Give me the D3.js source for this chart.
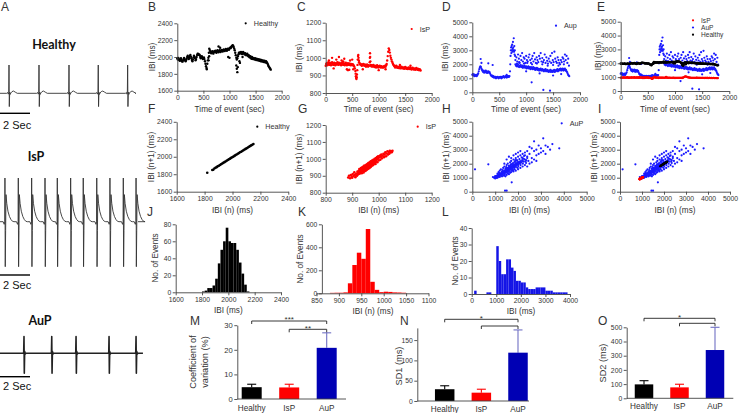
<!DOCTYPE html>
<html><head><meta charset="utf-8">
<script src="https://cdn.jsdelivr.net/npm/d3@7"></script>
<style>body{margin:0;background:#fff}svg{display:block}</style>
</head><body>
<svg id="chart" width="740" height="413"></svg>
<script>
// ---------------- DATA ----------------
const groups = ['Healthy', 'IsP', 'AuP'];

// Panel A: ECG beat times (s) and beat waveforms [offset s, amplitude]
const healthyBeats = [0.6, 2.6, 4.6, 6.55, 8.51];
const ispBeats = [0.33, 1.22, 2.11, 3.0, 3.82, 4.71, 5.55, 6.45, 7.33, 8.22, 9.07];
const aupBeats = [1.6, 3.45, 5.07, 7.27, 9.07];
const healthyWave = [[-0.15,0],[-0.08,0.03],[-0.05,-0.03],[-0.02,0.02],[0,1],[0.02,-0.47],[0.045,0.04],[0.08,-0.04],[0.12,0.01],[0.2,0.06],[0.3,0.08],[0.42,0.04],[0.55,0]];
const ispWave = [[-0.12,0],[-0.05,-0.06],[-0.01,0],[0,1],[0.02,-1.03],[0.045,-0.2],[0.07,0.62],[0.12,0.42],[0.2,0.24],[0.3,0.12],[0.4,0.05],[0.5,0.01],[0.6,0]];
const aupWave = [[-0.08,0],[-0.02,0.05],[0,1],[0.02,-1.18],[0.045,0.12],[0.08,-0.05],[0.12,0]];

// Panels B-E: [time of event (s), IBI (ms)]
const healthyIBI = [
[0,1985],[10,1970],[20,1990],[30,1975],[40,1960],[50,1955],[60,1970],[70,1985],[80,1965],[90,1950],
[100,1945],[110,1960],[120,1975],[130,1990],[140,1975],[150,1960],[160,1950],[170,1965],[180,1980],[190,2000],
[200,2015],[210,1995],[220,1975],[230,1990],[240,2010],[250,2025],[260,2005],[270,1985],[280,1965],[290,1950],
[300,1970],[310,1995],[320,2015],[330,2000],[340,1985],[350,1960],[360,1975],[370,2000],[380,2025],[390,2040],
[400,2035],[410,2025],[420,2030],[430,2020],[440,2000],[450,1985],[460,1995],[470,2010],[480,1990],[490,1975],
[500,1985],[510,1995],[520,1975],[530,1950],[540,1920],[550,1890],[560,1870],[565,1855],[575,1920],[585,1960],
[595,1990],[605,2050],[612,2100],[620,2085],[630,2070],[640,2060],[650,2045],[660,2055],[670,2070],[680,2060],
[690,2040],[700,2055],[710,2070],[720,2060],[730,2075],[740,2060],[750,2050],[760,2070],[770,2080],[780,2065],
[790,2055],[800,2070],[810,2080],[820,2070],[830,2060],[840,2075],[850,2085],[860,2075],[870,2065],[880,2080],
[890,2090],[900,2080],[910,2070],[920,2085],[930,2095],[940,2085],[950,2075],[960,2090],[970,2100],[980,2095],
[990,2085],[1000,2100],[1010,2110],[1020,2105],[1030,2115],[1040,2125],[1050,2130],[1060,2140],[1070,2135],[1080,2120],
[1090,2100],[1100,2080],[1110,2050],[1120,2020],[1130,1990],[1140,1970],[1150,1985],[1160,2010],[1170,2030],[1180,2050],
[1190,2040],[1200,2055],[1210,2045],[1220,2060],[1230,2050],[1240,2035],[1250,2045],[1260,2060],[1270,2050],[1280,2040],
[1290,2030],[1300,2045],[1310,2035],[1320,2020],[1330,2030],[1340,2040],[1350,2025],[1360,2010],[1370,2020],[1380,2000],
[1390,1995],[1400,2010],[1410,1990],[1420,1980],[1430,2000],[1440,1985],[1450,1975],[1460,1990],[1470,1980],[1480,1970],
[1490,1985],[1500,1975],[1510,1965],[1520,1980],[1530,1970],[1540,1960],[1550,1975],[1560,1965],[1570,1955],[1580,1970],
[1590,1960],[1600,1950],[1610,1965],[1620,1955],[1630,1945],[1640,1960],[1650,1950],[1660,1940],[1670,1955],[1680,1945],
[1690,1935],[1700,1950],[1710,1940],[1720,1930],[1730,1920],[1740,1905],[1750,1890],[1760,1880],[1770,1870],[1780,1860],[1790,1850],
[790,2125],[820,2110],[975,2000],[1000,1990],[1130,1900],[1140,1860],[1150,1820],[1160,1880],[1190,1950],[1200,1930],[1250,2000],[600,1960],[610,2010]
];
const ispIBI = [
[0,955],[10,965],[20,970],[30,958],[40,962],[50,975],[60,968],[70,960],[80,972],[90,966],
[100,958],[110,970],[120,975],[130,962],[140,968],[150,960],[160,972],[170,965],[180,958],[190,970],
[200,966],[210,962],[220,975],[230,968],[240,960],[250,972],[260,965],[270,970],[280,962],[290,958],
[300,968],[310,972],[320,965],[330,960],[340,970],[350,963],[360,958],[370,967],[380,972],[390,962],
[400,958],[410,966],[420,970],[430,962],[440,960],[450,968],[460,964],[470,958],[480,966],[490,962],
[500,958],[510,964],[520,960],[530,955],[540,950],[550,940],[560,925],[565,910],[570,895],[575,885],
[580,880],[585,890],[590,905],[595,930],[600,960],[605,990],[610,1010],[615,1016],[620,1000],[625,985],
[630,975],[640,968],[650,962],[660,966],[670,960],[680,955],[690,962],[700,958],[710,965],[720,960],
[730,955],[740,962],[750,958],[760,950],[770,958],[780,962],[790,955],[800,950],[810,958],[820,955],
[830,975],[833,1000],[836,1026],[839,1005],[842,980],[850,960],[860,952],[870,958],[880,950],[890,955],
[900,960],[910,952],[920,948],[930,955],[940,950],[950,945],[960,952],[970,958],[980,950],[990,945],
[1000,952],[1010,948],[1020,955],[1030,950],[1040,945],[1050,952],[1060,948],[1070,945],[1080,950],[1090,945],
[1100,952],[1110,948],[1120,955],[1130,950],[1140,958],[1150,965],[1160,985],[1170,1010],[1180,1035],[1190,1054],
[1200,1045],[1210,1030],[1220,1012],[1230,1000],[1240,990],[1250,980],[1260,972],[1270,965],[1280,960],[1290,955],
[1300,952],[1310,945],[1320,950],[1330,955],[1340,948],[1350,944],[1360,950],[1370,946],[1380,942],[1390,948],
[1400,944],[1410,940],[1420,946],[1430,950],[1440,944],[1450,940],[1460,946],[1470,942],[1480,938],[1490,944],
[1500,948],[1510,942],[1520,938],[1530,944],[1540,940],[1550,936],[1560,942],[1570,946],[1580,940],[1590,936],
[1600,942],[1610,938],[1620,934],[1630,940],[1640,944],[1650,938],[1660,934],[1670,940],[1680,936],[1690,932],
[1700,938],[1710,942],[1720,936],[1730,932],[1740,938],[1750,934],[1760,930],[1770,936],[1780,932],[1790,928],
[120,1000],[200,990],[250,1005],[300,985],[350,995],[400,935],[420,930],[445,932],[460,985],[520,935],
[500,990],[150,940],[60,985],[330,980],[700,935],[1000,930],[1130,935],[1400,960],[1600,955]
];
const aupIBI = [
[0,1250],[10,1300],[20,1200],[30,1280],[40,1150],[50,1220],[60,1180],[70,1250],[80,1150],[90,1200],
[100,1280],[110,1350],[120,1500],[130,1650],[140,1780],[150,1850],[160,1800],[170,1700],[180,1600],[190,1520],
[200,1450],[210,1550],[220,1400],[230,1500],[240,1450],[250,1550],[260,1400],[270,1500],[280,1380],[290,1450],
[300,1500],[310,1400],[320,1450],[330,1350],[340,1250],[350,1200],[360,1150],[370,1200],[380,1100],[390,1150],
[400,1050],[410,1100],[420,1050],[430,1100],[440,1000],[450,1080],[460,1050],[470,1100],[480,1050],[490,1000],
[500,1080],[510,1050],[520,1100],[530,1050],[540,1000],[550,1100],[560,1050],[570,1100],[580,1150],[590,1080],
[600,1050],[610,1100],[620,1150],[630,1100],[640,1050],[650,1150],[660,1100],[670,1150],[680,1100],[690,1150],
[155,2380],[170,2100],[297,2070],[378,1950],[638,1240],
[700,1500],[705,2000],[710,2600],[715,3000],[720,3200],[725,2800],[730,3300],[735,3000],[740,3400],[745,2900],
[750,3100],[755,3600],[760,3200],[765,3000],[770,3860],[775,2900],[780,3300],[785,2700],[790,3000],[795,2600],
[800,2000],[810,1900],[820,1950],[830,1850],[840,1900],[850,2000],[860,1850],[870,1800],[880,1900],[890,1850],
[900,1950],[910,1800],[920,1850],[930,1900],[940,1750],[950,1850],[960,1800],[970,1900],[980,1750],[990,1800],
[1000,1850],[1010,1700],[1020,1800],[1030,1750],[1040,1850],[1050,1700],[1060,1800],[1070,1750],[1080,1650],[1090,1800],
[1100,1700],[1110,1750],[1120,1650],[1130,1800],[1140,1700],[1150,1650],[1160,1750],[1170,1600],[1180,1700],[1190,1650],
[1200,1750],[1210,1600],[1220,1700],[1230,1650],[1240,1550],[1250,1650],[1260,1600],[1270,1700],[1280,1550],[1290,1600],
[1300,1650],[1310,1550],[1320,1600],[1330,1500],[1340,1600],[1350,1550],[1360,1650],[1370,1500],[1380,1550],[1390,1600],
[1400,1500],[1410,1550],[1420,1450],[1430,1550],[1440,1500],[1450,1600],[1460,1450],[1470,1550],[1480,1500],[1490,1450],
[1500,1550],[1510,1500],[1520,1600],[1530,1450],[1540,1550],[1550,1500],[1560,1600],[1570,1550],[1580,1650],[1590,1500],
[1600,1600],[1610,1550],[1620,1650],[1630,1600],[1640,1700],[1650,1550],[1660,1650],[1670,1600],[1680,1700],[1690,1550],
[1700,1650],[1710,1600],[1720,1700],[1730,1550],[1740,1600],[1750,1500],[1760,1450],[1770,1350],[1780,1250],[1790,1200],[1800,1150],
[800,2300],[820,2500],[835,2200],[850,2700],[865,2400],[880,2100],[895,2600],[910,2300],[925,2800],[940,2200],
[955,2500],[970,2400],[985,2100],[1000,2600],[1015,2300],[1030,2200],[1045,2500],[1060,2700],[1075,2300],[1090,2100],
[1105,2400],[1120,2600],[1135,2200],[1150,2800],[1165,2350],[1180,2100],[1195,2500],[1210,2300],[1225,2150],[1240,2600],
[1255,2400],[1270,2800],[1285,2200],[1300,2450],[1315,2150],[1330,2300],[1345,2700],[1360,2100],[1375,2500],[1390,2250],
[1405,2050],[1420,2400],[1435,2200],[1450,2600],[1465,2100],[1480,2800],[1495,2300],[1510,2150],[1525,2900],[1540,2400],
[1555,2200],[1570,2100],[1585,2500],[1600,2300],[1615,2100],[1630,2000],[1645,2300],[1660,2150],[1675,2500],[1690,2400],
[1705,2200],[1720,2700],[1735,2300],[1750,2600],[1765,2100],[1780,2400],[1795,1900],
[830,2050],[870,2150],[960,2050],[1020,2100],[1110,2000],[1200,2050],[1300,2000],[1400,1900],[1500,1950],[1600,1900],[1700,2000],
[1102,714],[1319,167],[1443,119],[1000,1500],[1250,1350],[1500,1200],[1650,1300]
];

// Panels F-I: Poincare pairs [IBI(n), IBI(n+1)] (ms)
const healthyPoincare = [
[1819,1817],[1855,1848],[1862,1852],[1870,1866],[1878,1874],[1886,1881],[1894,1890],[1902,1897],[1910,1906],[1918,1914],
[1926,1922],[1934,1930],[1942,1938],[1950,1946],[1958,1955],[1966,1962],[1974,1970],[1982,1978],[1990,1987],[1998,1994],
[2006,2002],[2014,2010],[2022,2019],[2030,2026],[2038,2034],[2046,2042],[2054,2051],[2062,2058],[2070,2066],[2078,2074],
[2086,2083],[2094,2090],[2102,2098],[2110,2106],[2118,2115],[2126,2122],[2134,2130],[2142,2138],[2150,2146]
];
const ispPoincare = [
[885,890],[888,900],[892,885],[895,905],[898,895],[900,888],[902,910],[905,898],[908,920],[910,905],
[912,892],[915,912],[918,900],[920,925],[920,915],[922,908],[925,930],[925,918],[927,940],[928,912],
[930,925],[930,935],[932,918],[933,945],[935,928],[935,940],[936,915],[938,932],[938,950],[940,925],
[940,942],[941,935],[942,955],[943,920],[944,938],[945,948],[945,930],[946,960],[947,942],[948,935],
[949,952],[950,945],[950,928],[951,958],[952,940],[953,965],[954,950],[955,935],[955,945],[956,958],
[957,970],[958,948],[959,940],[960,955],[960,962],[961,975],[962,950],[963,960],[964,945],[965,968],
[965,955],[966,980],[967,960],[968,950],[969,972],[970,962],[970,985],[971,955],[972,968],[973,978],
[974,960],[975,990],[976,970],[977,982],[978,962],[979,975],[980,995],[981,968],[982,985],[983,975],
[985,1000],[985,980],[987,992],[988,970],[990,1005],[990,985],[992,995],[994,1010],[995,980],[997,1000],
[998,1015],[1000,990],[1002,1008],[1005,1020],[1006,995],[1008,1012],[1010,1025],[1012,1003],[1015,1018],[1018,1030],
[1020,1010],[1022,1025],[1025,1038],[1028,1015],[1030,1032],[1033,1045],[1035,1025],[1038,1040],[1040,1030],[1042,1048],
[1045,1038],[1048,1045],[1050,1040],[1052,1048],
[940,948],[945,952],[950,955],[955,960],[958,952],[962,966],[966,964],[952,948],[948,944],[944,940]
];
const aupPoincare = [
[1000,1000],[1020,1050],[1050,1020],[1080,1080],[1100,1040],[1040,1100],[1120,1120],[1150,1080],[1080,1150],[1180,1180],
[1200,1130],[1130,1200],[1060,1000],[1000,1060],[1100,1000],[1000,1120],[1220,1220],[1250,1170],[1170,1250],[1280,1280],
[1300,1230],[1230,1300],[1320,1350],[1350,1300],[1380,1400],[1400,1350],[1350,1420],[1420,1450],[1450,1400],[1400,1480],
[1480,1500],[1500,1450],[1450,1530],[1520,1550],[1550,1500],[1500,1580],[1580,1600],[1600,1550],[1550,1650],[1620,1680],
[1650,1600],[1600,1700],[1680,1700],[1700,1650],[1650,1750],[1720,1780],[1750,1700],[1700,1800],[1780,1800],[1800,1750],
[1750,1850],[1820,1880],[1850,1800],[1800,1900],[1880,1900],[1900,1850],[1850,1950],[1920,1980],[1950,1900],[1900,2000],
[1980,2000],[2000,1950],[1950,2050],[2020,2080],[2050,2000],[2000,2100],[2080,2100],[2100,2050],[2050,2150],[2120,2180],
[2150,2100],[2200,2200],[2180,2250],[2250,2150],[2300,2300],[2250,2350],[2350,2250],
[1300,1100],[1400,1150],[1500,1200],[1600,1250],[1450,1100],[1550,1300],[1700,1400],[1800,1450],[1900,1500],[2000,1600],
[1650,1350],[1750,1500],[1850,1600],[2100,1700],[2200,1800],[2300,1900],[2400,1800],[2500,2000],[2600,2100],[2450,2200],
[2700,2300],[2800,2200],[2350,2050],[1200,1050],[1350,1150],
[1100,1300],[1150,1400],[1200,1500],[1250,1600],[1300,1450],[1350,1700],[1400,1800],[1450,1650],[1500,1900],[1550,2000],
[1600,1850],[1650,2100],[1700,2200],[1750,2000],[1800,2300],[1850,2150],[1900,2400],[1950,2250],[2000,2500],[1500,2300],
[1600,2500],[1700,2400],[1800,2600],[1900,2700],[2000,2800],[2100,2600],[2200,2700],[1400,2000],
[2100,2900],[2200,2400],[2300,2600],[2400,2500],[2500,2700],[2600,2400],[2700,2900],[2800,3000],[2900,2700],[3000,3100],
[3100,2900],[3200,3300],[3300,3200],[3400,3000],[3500,3400],[3800,3100],[3100,3810],[2700,3600],[2900,3300],[3000,2800],
[3200,2700],[2600,3100],[2400,2900],[2300,2800],[2500,3200],[2800,2600],
[1030,1010],[1060,1090],[1090,1060],[1110,1160],[1140,1110],[1160,1190],[1190,1140],[1210,1260],[1240,1210],[1260,1320],
[1290,1240],[1310,1380],[1340,1270],[1370,1460],[1390,1310],[1430,1520],[1460,1360],[1490,1620],[1510,1380],[1540,1700],
[1570,1420],[1610,1780],[1640,1480],[1670,1860],[1710,1550],[1730,1950],[1760,1620],[1790,2050],[1830,1700],[1870,2120],
[1910,1760],[1960,2200],[2010,1820],[2060,2320],[2110,1900],[2160,2450],[2210,2000],[2260,2550],[2330,2150],[2400,2400],
[1180,1330],[1270,1150],[1330,1550],[1420,1250],[1480,1750],[1580,1450],[1680,1950],[1780,1550],[1880,2250],[1980,1700],
[118,1600],[700,1957],[1430,71],[1503,71],[1722,671],[900,1050],[950,1000],[1000,950]
];

// Panels J-L: histograms (bin start, ms) and counts
const healthyBinWidth = 20;
const healthyBins = [1800,1820,1840,1860,1880,1900,1920,1940,1960,1980,2000,2020,2040,2060,2080,2100,2120,2140];
const healthyCounts = [1,2,5,5,8,16,34,50,60,76,60,58,58,50,35,22,9,1];
const ispBinWidth = 10;
const ispBins = [880,890,900,910,920,930,940,950,960,970,980,990,1000,1010,1020,1030,1040];
const ispCounts = [4,5,5,8,87,246,353,300,559,100,30,10,14,12,8,7,5];
const aupBinWidth = 100;
const aupBins = [0,100,200,300,400,500,600,700,800,900,1000,1100,1200,1300,1400,1500,1600,1700,1800,1900,
                 2000,2100,2200,2300,2400,2500,2600,2700,2800,2900,3000,3100,3200,3300,3400,3500,3600,3700,3800];
const aupCounts = [0,2,0,0,0,0,1,1,0,0,29,20,12,12,21,21,16,14,8,8,7,7,4,3,3,3,4,4,4,4,2,2,2,1,1,1,1,1,1];

// Panels M-O: mean and SD
const cvMean = [4.8, 4.7, 20.8], cvSD = [1.2, 1.3, 6.1];
const sd1Mean = [29, 20.5, 119], sd1SD = [8.5, 8.5, 56];
const sd2Mean = [98, 77, 340], sd2SD = [26, 22, 160];
const cvSig = [['Healthy','AuP','***'], ['IsP','AuP','**']];
const sd1Sig = [['Healthy','AuP','*'], ['IsP','AuP','']];
const sd2Sig = [['Healthy','AuP','*'], ['IsP','AuP','']];

// Tick values
const timeTicks = [0,500,1000,1500,2000];
const healthyTicks = [1600,1800,2000,2200,2400];
const ispTicks = [800,900,1000,1100,1200];
const aupTicks = [0,1000,2000,3000,4000,5000];
const histJy = [0,20,40,60,80], histKx = [850,900,950,1000,1050,1100], histKy = [0,200,400,600];
const histLx = [0,1000,2000,3000,4000], histLy = [0,10,20,30,40];
const cvTicks = [0,10,20,30], sd1Ticks = [0,50,100,150], sd2Ticks = [0,100,200,300,400,500];

// ---------------- DRAWING ----------------
const FONT = "'Liberation Sans', Arial, Helvetica, sans-serif";
const RED = '#ff0000', BLUE = '#1a1aff', BLACK = '#000000';
const TXT = '#333333';
const fmt = d3.format('d');
const svg = d3.select('#chart');

function txt(t, x, y, o = {}) {
  return svg.append('text').attr('x', x).attr('y', y).attr('font-family', o.family || FONT)
    .attr('font-size', o.fs || 8).attr('font-weight', o.bold ? 'bold' : 'normal')
    .attr('text-anchor', o.anchor || 'start').attr('fill', o.fill || TXT).text(t);
}
function yTitle(t, cx, cy, fs) {
  svg.append('text').attr('transform', `translate(${cx + fs * 0.34},${cy}) rotate(-90)`)
    .attr('text-anchor', 'middle').attr('font-family', FONT).attr('font-size', fs).attr('fill', TXT).text(t);
}
function styleAxis(a, fs) {
  a.attr('font-family', FONT).attr('font-size', fs);
  a.selectAll('path.domain').attr('stroke', '#444').attr('stroke-width', 0.9);
  a.selectAll('.tick line').attr('stroke', '#444').attr('stroke-width', 0.9);
  a.selectAll('text').attr('fill', TXT);
}
function axes(x, y, xt, yt, fs = 6.8, yAt) {
  const ax = yAt === undefined ? x.range()[0] : x(yAt);
  const xa = svg.append('g').attr('transform', `translate(0,${y.range()[0]})`)
    .call(d3.axisBottom(x).tickValues(xt).tickFormat(fmt).tickSize(3).tickSizeOuter(0).tickPadding(1.5));
  const ya = svg.append('g').attr('transform', `translate(${ax},0)`)
    .call(d3.axisLeft(y).tickValues(yt).tickFormat(fmt).tickSize(3).tickSizeOuter(0).tickPadding(1.5));
  styleAxis(xa, fs); styleAxis(ya, fs);
}
function dots(data, x, y, color, r) {
  svg.append('g').selectAll('circle').data(data).join('circle')
    .attr('cx', d => x(d[0])).attr('cy', d => y(d[1])).attr('r', r).attr('fill', color);
}
function legend(items, mx, cy, dy, fs = 7.2) {
  items.forEach((it, i) => {
    svg.append('circle').attr('cx', mx).attr('cy', cy + i * dy).attr('r', 1.1).attr('fill', it[1]);
    txt(it[0], mx + 8, cy + i * dy + fs * 0.36, {fs: fs});
  });
}

// ---- Panel A: traces
function tracePts(beats, wave, tEnd) {
  const pts = [[0, 0]];
  beats.forEach(b => wave.forEach(w => pts.push([b + w[0], w[1]])));
  pts.push([tEnd, 0]);
  return pts;
}
const xA = d3.scaleLinear().domain([0, 9]).range([0, 135]);
function trace(beats, wave, tEnd, yS, sw, col) {
  svg.append('path').datum(tracePts(beats, wave, tEnd))
    .attr('d', d3.line().x(d => xA(d[0])).y(d => yS(d[1])))
    .attr('fill', 'none').attr('stroke', col).attr('stroke-width', sw).attr('stroke-linejoin', 'round');
}
function scaleBar(y, ty) {
  svg.append('line').attr('x1', xA(0)).attr('x2', xA(2)).attr('y1', y).attr('y2', y).attr('stroke', '#000').attr('stroke-width', 1.4);
  txt('2 Sec', 3, ty, {fs: 11, fill: '#111'});
}
txt('A', 1, 11, {fs: 12});
txt('Healthy', 54, 48.5, {fs: 12.5, bold: true, anchor: 'middle', family: 'Lato, ' + FONT, fill: '#111'});
trace(healthyBeats, healthyWave, 9, d3.scaleLinear().domain([0, 1]).range([93.3, 65]), 0.9, '#333');
scaleBar(113.3, 128.5);
txt('IsP', 36, 160.5, {fs: 12.5, bold: true, anchor: 'middle', family: 'Lato, ' + FONT, fill: '#111'});
trace(ispBeats, ispWave, 9.2, d3.scaleLinear().domain([0, 1]).range([221.7, 178]), 0.9, '#333');
scaleBar(275, 288.5);
txt('AuP', 40, 324.5, {fs: 12.5, bold: true, anchor: 'middle', family: 'Lato, ' + FONT, fill: '#111'});
trace(aupBeats, aupWave, 9.53, d3.scaleLinear().domain([0, 1]).range([353.3, 336.5]), 1.6, '#222');
scaleBar(376.7, 389.5);

// ---- Row 1: time series
const tsTitle = 'Time of event (sec)';
// B
let x = d3.scaleLinear().domain([0, 2000]).range([177.3, 281.7]);
let y = d3.scaleLinear().domain([1600, 2400]).range([90.7, 23.3]);
dots(healthyIBI, x, y, BLACK, 1.2);
axes(x, y, timeTicks, healthyTicks);
txt(tsTitle, 229.5, 111.5, {fs: 8.2, anchor: 'middle'}); yTitle('IBI (ms)', 152, 57, 8.2);
legend([['Healthy', BLACK]], 245.7, 23.3, 0);
txt('B', 148, 11, {fs: 12});
// C
x = d3.scaleLinear().domain([0, 2000]).range([325.7, 431.7]);
y = d3.scaleLinear().domain([800, 1200]).range([93, 22.7]);
dots(ispIBI, x, y, RED, 1.2);
axes(x, y, timeTicks, ispTicks);
txt(tsTitle, 378.7, 111.5, {fs: 8.2, anchor: 'middle'}); yTitle('IBI (ms)', 299, 58, 8.2);
legend([['IsP', RED]], 411.7, 29, 0);
txt('C', 297, 11, {fs: 12});
// D
x = d3.scaleLinear().domain([0, 2000]).range([472.3, 580]);
y = d3.scaleLinear().domain([0, 5000]).range([92.3, 22.3]);
dots(aupIBI, x, y, BLUE, 1.1);
axes(x, y, timeTicks, aupTicks);
txt(tsTitle, 526, 111.5, {fs: 8.2, anchor: 'middle'}); yTitle('IBI (ms)', 445, 57, 8.2);
legend([['Aup', BLUE]], 556, 25.7, 0);
txt('D', 442, 11, {fs: 12});
// E
x = d3.scaleLinear().domain([0, 2000]).range([620.7, 729.3]);
y = d3.scaleLinear().domain([0, 5000]).range([91, 21.7]);
dots(aupIBI, x, y, BLUE, 1.1);
dots(ispIBI, x, y, RED, 1.1);
dots(healthyIBI, x, y, BLACK, 1.2);
axes(x, y, timeTicks, aupTicks);
txt(tsTitle, 675, 111.5, {fs: 8.2, anchor: 'middle'}); yTitle('IBI (ms)', 598, 56, 8.2);
legend([['IsP', RED], ['AuP', BLUE], ['Healthy', BLACK]], 693, 20.3, 7.2, 6.6);
txt('E', 597, 11, {fs: 12});

// ---- Row 2: Poincare plots
const pnX = 'IBI (n) (ms)', pnY = 'IBI (n+1) (ms)';
// F
x = d3.scaleLinear().domain([1600, 2400]).range([176.7, 288.3]);
y = d3.scaleLinear().domain([1600, 2400]).range([191.7, 121.8]);
dots(healthyPoincare, x, y, BLACK, 1.3);
axes(x, y, healthyTicks, healthyTicks);
txt(pnX, 232.5, 213, {fs: 8.2, anchor: 'middle'}); yTitle(pnY, 151, 157, 8.2);
legend([['Healthy', BLACK]], 257.3, 126.7, 0);
txt('F', 148, 113, {fs: 12});
// G
x = d3.scaleLinear().domain([800, 1200]).range([325.7, 431.7]);
y = d3.scaleLinear().domain([800, 1200]).range([192.7, 125]);
dots(ispPoincare, x, y, RED, 1.3);
axes(x, y, ispTicks, ispTicks);
txt(pnX, 378.7, 213, {fs: 8.2, anchor: 'middle'}); yTitle(pnY, 299, 159, 8.2);
legend([['IsP', RED]], 417.7, 126.7, 0);
txt('G', 298, 113, {fs: 12});
// H
x = d3.scaleLinear().domain([0, 5000]).range([472.3, 586.7]);
y = d3.scaleLinear().domain([0, 5000]).range([191.7, 121.7]);
dots(aupPoincare, x, y, BLUE, 1.1);
axes(x, y, aupTicks, aupTicks);
txt(pnX, 529.5, 213, {fs: 8.2, anchor: 'middle'}); yTitle(pnY, 446, 157, 8.2);
legend([['AuP', BLUE]], 561.7, 123.3, 0);
txt('H', 442, 113, {fs: 12});
// I
x = d3.scaleLinear().domain([0, 5000]).range([620, 730]);
y = d3.scaleLinear().domain([0, 5000]).range([191.7, 121.7]);
dots(aupPoincare, x, y, BLUE, 1.1);
dots(ispPoincare, x, y, RED, 1.1);
dots(healthyPoincare, x, y, BLACK, 1.1);
axes(x, y, aupTicks, aupTicks);
txt(pnX, 675, 213, {fs: 8.2, anchor: 'middle'}); yTitle(pnY, 594, 157, 8.2);
txt('I', 598, 113, {fs: 12});

// ---- Row 3: histograms
function hist(bins, counts, w, x, y, color) {
  svg.append('g').selectAll('rect').data(bins.map((b, i) => [b, counts[i]])).join('rect')
    .attr('x', d => x(d[0])).attr('width', d => x(d[0] + w) - x(d[0]))
    .attr('y', d => y(d[1])).attr('height', d => y(0) - y(d[1])).attr('fill', color);
}
// J
x = d3.scaleLinear().domain([1600, 2400]).range([175.7, 281]);
y = d3.scaleLinear().domain([0, 80]).range([292.3, 224.3]);
hist(healthyBins, healthyCounts, healthyBinWidth, x, y, BLACK);
axes(x, y, healthyTicks, histJy);
txt('IBI (ms)', 228.3, 313, {fs: 8.2, anchor: 'middle'}); yTitle('No. of Events', 155, 258, 8.2);
txt('J', 147, 216, {fs: 12});
// K
x = d3.scaleLinear().domain([850, 1100]).range([316.5, 428.5]);
y = d3.scaleLinear().domain([0, 600]).range([293.3, 224.3]);
hist(ispBins, ispCounts, ispBinWidth, x, y, RED);
axes(x, y, histKx, histKy, 6.8, 862);
txt(pnX, 373, 314, {fs: 8.2, anchor: 'middle'}); yTitle('No. of Events', 300, 259, 8.2);
txt('K', 298, 216, {fs: 12});
// L
x = d3.scaleLinear().domain([0, 4000]).range([471.7, 570]);
y = d3.scaleLinear().domain([0, 40]).range([294, 228]);
hist(aupBins, aupCounts, aupBinWidth, x, y, '#1414e6');
axes(x, y, histLx, histLy);
txt('IBI (ms)', 521, 314, {fs: 8.2, anchor: 'middle'}); yTitle('No. of Events', 455, 261, 8.2);
txt('L', 442, 216, {fs: 12});

// ---- Row 4: bar charts
const barFill = [BLACK, RED, '#0000b4'];
const errCol = [BLACK, RED, '#7070c4'];
function barPanel(o) {
  const xc = d3.scalePoint().domain(groups).range(o.centers);
  const yS = d3.scaleLinear().domain(o.domain).range(o.yRange);
  const g = svg.append('g');
  groups.forEach((c, i) => {
    const cx = xc(c);
    g.append('line').attr('x1', cx).attr('x2', cx).attr('y1', yS(o.mean[i])).attr('y2', yS(o.mean[i] + o.sd[i]))
      .attr('stroke', errCol[i]).attr('stroke-width', 1.1);
    g.append('line').attr('x1', cx - 4.5).attr('x2', cx + 4.5).attr('y1', yS(o.mean[i] + o.sd[i])).attr('y2', yS(o.mean[i] + o.sd[i]))
      .attr('stroke', errCol[i]).attr('stroke-width', 1.1);
    g.append('rect').attr('x', cx - o.bw / 2).attr('width', o.bw).attr('y', yS(o.mean[i]))
      .attr('height', yS(0) - yS(o.mean[i])).attr('fill', barFill[i]);
    txt(c, cx, o.labelY, {fs: 8.2, anchor: 'middle'});
  });
  const ya = svg.append('g').attr('transform', `translate(${o.axisX},0)`)
    .call(d3.axisLeft(yS).tickValues(o.ticks).tickFormat(fmt).tickSize(3).tickSizeOuter(0).tickPadding(1.5));
  styleAxis(ya, o.tfs || 7.6);
  svg.append('line').attr('x1', o.axisX).attr('x2', o.axisEnd).attr('y1', yS(0)).attr('y2', yS(0))
    .attr('stroke', '#444').attr('stroke-width', 0.9);
  o.sig.forEach((s, i) => {
    const x1 = xc(s[0]), x2 = xc(s[1]), by = o.sigY[i];
    svg.append('path').attr('d', `M${x1},${by + 3}V${by}H${x2}V${by + 3}`)
      .attr('fill', 'none').attr('stroke', '#222').attr('stroke-width', 0.9);
    if (s[2]) txt(s[2], (x1 + x2) / 2, by + 1.2, {fs: 8, anchor: 'middle'});
  });
}
barPanel({centers: [251.7, 326.7], domain: [0, 30], yRange: [399, 325.2], mean: cvMean, sd: cvSD, bw: 20,
  ticks: cvTicks, axisX: 237.3, axisEnd: 346, labelY: 410.5, sig: cvSig, sigY: [321, 329.3]});
svg.append('text').attr('transform', 'translate(196.2,362) rotate(-90)').attr('text-anchor', 'middle')
  .attr('font-family', FONT).attr('font-size', 9.2).attr('fill', TXT).text('Coefficient of');
svg.append('text').attr('transform', 'translate(208.2,362) rotate(-90)').attr('text-anchor', 'middle')
  .attr('font-family', FONT).attr('font-size', 9.2).attr('fill', TXT).text('variation (%)');
txt('M', 190, 325, {fs: 12});

barPanel({centers: [444.7, 518], domain: [0, 180], yRange: [401, 327.9], mean: sd1Mean, sd: sd1SD, bw: 19.5,
  ticks: sd1Ticks, axisX: 417.3, axisEnd: 529, labelY: 412, sig: sd1Sig, sigY: [319.3, 326], tfs: 6.8});
yTitle('SD1 (ms)', 398.5, 366, 9.2);
txt('N', 400, 325, {fs: 12});

barPanel({centers: [644, 715], domain: [0, 500], yRange: [398.3, 327.3], mean: sd2Mean, sd: sd2SD, bw: 18.5,
  ticks: sd2Ticks, axisX: 626.7, axisEnd: 733.3, labelY: 408.5, sig: sd2Sig, sigY: [318.3, 323.3], tfs: 6.8});
yTitle('SD2 (ms)', 603.3, 363, 9.2);
txt('O', 598, 325, {fs: 12});
</script>
</body></html>
